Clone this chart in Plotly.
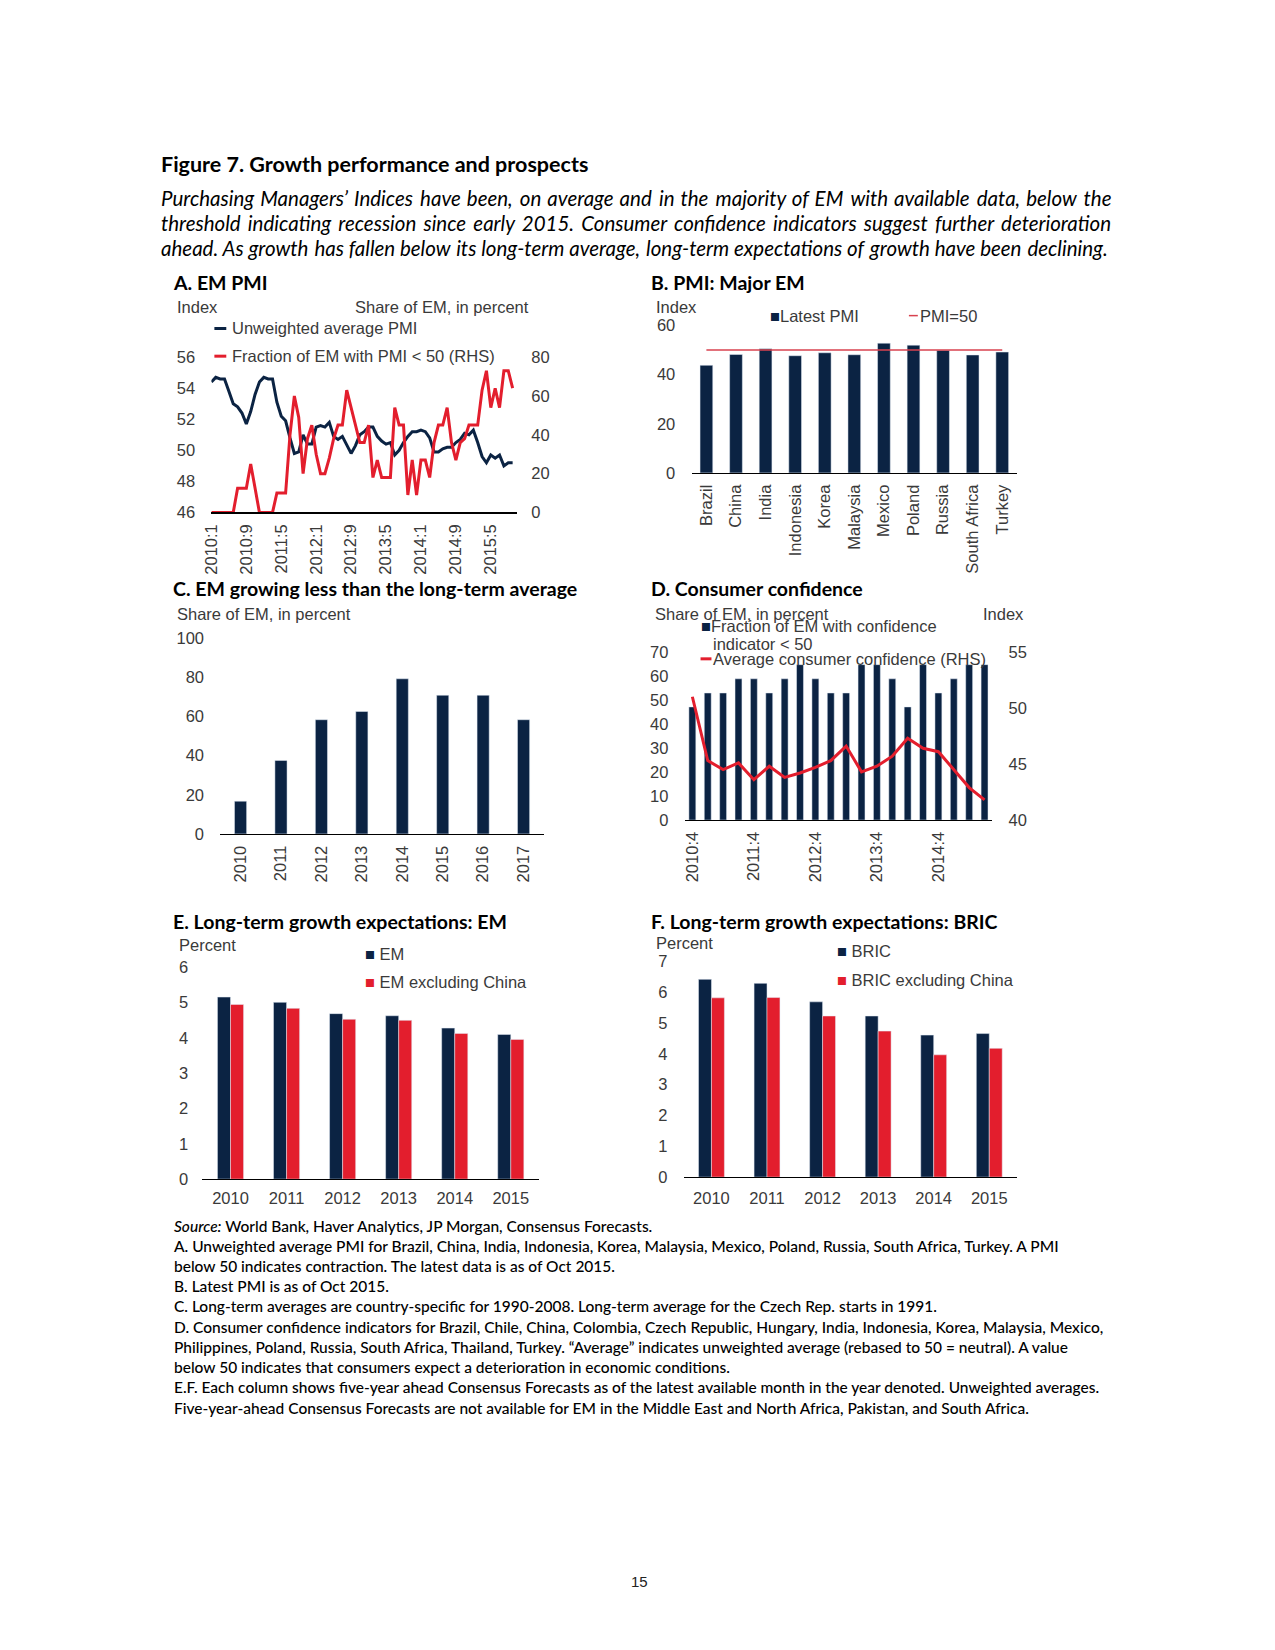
import plotly.graph_objects as go

W, H = 1275, 1650
def fx(x): return x / W
def fy(y): return 1 - y / H

NAVY = "#0b2343"
RED = "#e31e2d"
TXT = "#3a3a3a"
AXF = "Liberation Sans"
HF = "Lato"
FS = 16.5

# ---------------- Data ----------------
# A. EM PMI (monthly, 2010:1 - 2015:10)
A_MONTHS = [f"{2010 + i // 12}:{i % 12 + 1}" for i in range(70)]
A_TICKS = ["2010:1", "2010:9", "2011:5", "2012:1", "2012:9", "2013:5", "2014:1", "2014:9", "2015:5"]
A_PMI = [54.4, 54.7, 54.6, 54.6, 53.8, 53.0, 52.8, 52.4, 51.7, 52.5,
         53.6, 54.4, 54.7, 54.6, 54.6, 53.1, 52.2, 51.9, 50.8, 49.8,
         49.9, 51.0, 50.4, 50.4, 51.5, 51.6, 51.5, 51.8, 50.9, 50.7,
         50.9, 50.3, 49.8, 50.3, 51.0, 51.2, 51.5, 51.5, 50.9, 50.6,
         50.4, 50.5, 49.7, 50.0, 50.5, 50.9, 51.2, 51.2, 51.3, 51.2,
         50.8, 49.9, 49.9, 50.1, 50.2, 50.2, 50.5, 50.7, 51.1, 51.0,
         51.3, 50.5, 49.6, 49.2, 49.7, 49.5, 49.7, 49.0, 49.2, 49.2]
A_FRAC = [0, 0, 0, 0, 0, 0, 12.5, 12.5, 12.5, 25,
          12.5, 0, 0, 0, 0, 10, 10, 10, 40, 60,
          49, 20, 38, 45, 30, 20, 20, 28, 38, 45,
          45, 63, 54, 45, 36, 36, 45, 18, 27, 18,
          18, 18, 54, 45, 45, 9, 27, 9, 27, 27,
          18, 36, 45, 45, 54, 36, 27, 36, 38, 45,
          45, 45, 63, 73, 54, 64, 54, 73, 73, 64]

# B. PMI: Major EM
B_COUNTRIES = ["Brazil", "China", "India", "Indonesia", "Korea", "Malaysia",
               "Mexico", "Poland", "Russia", "South Africa", "Turkey"]
B_PMI = [43.8, 48.2, 50.5, 47.7, 48.9, 48.1, 52.8, 52.0, 49.9, 48.0, 49.2]
B_THRESHOLD = 50

# C. EM growing less than long-term average
C_YEARS = ["2010", "2011", "2012", "2013", "2014", "2015", "2016", "2017"]
C_SHARE = [16.7, 37.5, 58.3, 62.5, 79.2, 70.8, 70.8, 58.3]

# D. Consumer confidence (quarterly 2010:4 - 2015:3)
D_QUARTERS = [f"{2010 + (i + 3) // 4}:{(i + 3) % 4 + 1}" for i in range(20)]
D_TICKS = ["2010:4", "2011:4", "2012:4", "2013:4", "2014:4"]
D_FRAC = [47.1, 52.9, 52.9, 58.8, 58.8, 52.9, 58.8, 64.7, 58.8, 52.9,
          52.9, 64.7, 64.7, 58.8, 47.1, 64.7, 52.9, 58.8, 64.7, 64.7]
D_CONF = [51.0, 45.3, 44.5, 45.1, 43.6, 44.8, 43.8, 44.2, 44.7, 45.3,
          46.6, 44.3, 44.8, 45.7, 47.3, 46.4, 46.1, 44.5, 42.9, 41.8]

# E. Long-term growth expectations: EM
E_YEARS = ["2010", "2011", "2012", "2013", "2014", "2015"]
E_EM = [5.16, 5.01, 4.69, 4.63, 4.28, 4.10]
E_EXCH = [4.95, 4.84, 4.53, 4.50, 4.13, 3.96]

# F. Long-term growth expectations: BRIC
F_YEARS = ["2010", "2011", "2012", "2013", "2014", "2015"]
F_BRIC = [6.42, 6.29, 5.69, 5.23, 4.61, 4.66]
F_EXCH = [5.82, 5.83, 5.23, 4.74, 3.97, 4.18]

# ---------------- Figure ----------------
fig = go.Figure()

# A
fig.add_trace(go.Scatter(x=A_MONTHS, y=A_PMI, mode="lines", line=dict(color=NAVY, width=3),
                         xaxis="x", yaxis="y"))
fig.add_trace(go.Scatter(x=A_MONTHS, y=A_FRAC, mode="lines", line=dict(color=RED, width=3),
                         xaxis="x", yaxis="y2"))
# B
fig.add_trace(go.Bar(x=B_COUNTRIES, y=B_PMI, marker_color=NAVY, width=0.43,
                     xaxis="x2", yaxis="y3"))
fig.add_trace(go.Scatter(x=B_COUNTRIES, y=[B_THRESHOLD] * len(B_COUNTRIES), mode="lines",
                         line=dict(color="#d8424f", width=1.5), xaxis="x2", yaxis="y3"))
# C
fig.add_trace(go.Bar(x=C_YEARS, y=C_SHARE, marker_color=NAVY, width=0.3,
                     xaxis="x3", yaxis="y4"))
# D
fig.add_trace(go.Bar(x=D_QUARTERS, y=D_FRAC, marker_color=NAVY, width=0.45,
                     xaxis="x4", yaxis="y5"))
fig.add_trace(go.Scatter(x=D_QUARTERS, y=D_CONF, mode="lines", line=dict(color=RED, width=3),
                         xaxis="x4", yaxis="y6"))
# E
fig.add_trace(go.Bar(x=E_YEARS, y=E_EM, marker_color=NAVY, width=0.233, offset=-0.233,
                     xaxis="x5", yaxis="y7"))
fig.add_trace(go.Bar(x=E_YEARS, y=E_EXCH, marker_color=RED, width=0.233, offset=0,
                     xaxis="x5", yaxis="y7"))
# F
fig.add_trace(go.Bar(x=F_YEARS, y=F_BRIC, marker_color=NAVY, width=0.233, offset=-0.233,
                     xaxis="x6", yaxis="y8"))
fig.add_trace(go.Bar(x=F_YEARS, y=F_EXCH, marker_color=RED, width=0.233, offset=0,
                     xaxis="x6", yaxis="y8"))

tickfont = dict(family=AXF, size=FS, color=TXT)

def xax(x0, x1, anchor, rng, **kw):
    d = dict(domain=[fx(x0), fx(x1)], anchor=anchor, type="category", range=rng,
             showline=True, linecolor="#000000", linewidth=1.2, showgrid=False,
             zeroline=False, ticks="outside", tickcolor="rgba(0,0,0,0)", ticklen=4,
             tickfont=tickfont, fixedrange=True)
    d.update(kw)
    return d

def yax(y0, y1, anchor, rng, dtick, side="left", overlaying=None, ticklen=12):
    d = dict(domain=[fy(y1), fy(y0)], anchor=anchor, range=rng, dtick=dtick, side=side,
             showline=False, showgrid=False, zeroline=False, ticks="outside",
             tickcolor="rgba(0,0,0,0)", ticklen=ticklen, tickfont=tickfont, fixedrange=True)
    if overlaying:
        d["overlaying"] = overlaying
    return d

fig.update_layout(
    width=W, height=H, margin=dict(l=0, r=0, t=0, b=0),
    paper_bgcolor="white", plot_bgcolor="rgba(0,0,0,0)",
    showlegend=False, barmode="overlay",
    xaxis=xax(203, 511, "y", [0, 70], tickvals=A_TICKS, ticktext=A_TICKS, tickangle=-90),
    yaxis=yax(352, 509, "x", [46, 56], 2),
    yaxis2=yax(352, 509, "x", [0, 80], 20, side="right", overlaying="y", ticklen=10),
    xaxis2=xax(687, 1015, "y3", [-0.5, 10.5], tickangle=-90),
    yaxis3=yax(320, 469, "x2", [0, 60], 20),
    xaxis3=xax(212, 538, "y4", [-0.5, 7.5], tickangle=-90),
    yaxis4=yax(636, 834, "x3", [0, 100], 20),
    xaxis4=xax(680, 990, "y5", [-0.5, 19.5], tickvals=D_TICKS, ticktext=D_TICKS, tickangle=-90),
    yaxis5=yax(650, 820, "x4", [0, 70], 10),
    yaxis6=yax(650, 820, "x4", [40, 55], 5, side="right", overlaying="y5", ticklen=12),
    xaxis5=xax(194, 533, "y7", [-0.5, 5.5], ticklen=4, tickangle=0),
    yaxis7=yax(969, 1183, "x5", [0, 6], 1, ticklen=10),
    xaxis6=xax(679, 1015, "y8", [-0.5, 5.5], ticklen=6, tickangle=0),
    yaxis8=yax(963, 1181, "x6", [0, 7], 1),
)

ann = []
def t(x, y, s, size=FS, family=AXF, color=TXT, xanchor="left", bold=False, italic=False, weight=None):
    if bold:
        s = f"<b>{s}</b>"
    if italic:
        s = f"<i>{s}</i>"
    font = dict(family=family, size=size, color=color)
    if weight:
        font["weight"] = weight
    ann.append(dict(x=fx(x), y=fy(y), xref="paper", yref="paper", text=s, showarrow=False,
                    xanchor=xanchor, yanchor="middle", align="left", font=font))

def justify(line, n_extra):
    # spread n_extra hair spaces evenly over the word gaps
    words = line.split(" ")
    gaps = len(words) - 1
    out = words[0]
    for i in range(gaps):
        k = (n_extra * (i + 1)) // gaps - (n_extra * i) // gaps
        out += " " + "\u200a" * k + words[i + 1]
    return out

# Header
t(150, 157, "Figure 7. Growth performance and prospects", size=21.5, family=HF, color="#000", bold=True)
para = [
    ("Purchasing Managers’ Indices have been, on average and in the majority of EM with available data, below the", 24),
    ("threshold indicating recession since early 2015. Consumer confidence indicators suggest further deterioration", 22),
    ("ahead. As growth has fallen below its long-term average, long-term expectations of growth have been declining.", 5),
]
for i, (line, n) in enumerate(para):
    t(150, 191 + 25.5 * i, justify(line, n), size=20.5, family=HF, color="#000", italic=True)

# Panel titles
for (x, y, s) in [(162, 277, "A. EM PMI"), (644, 277, "B. PMI: Major EM"),
                  (162, 586, "C. EM growing less than the long-term average"),
                  (644, 586, "D. Consumer confidence"),
                  (162, 923, "E. Long-term growth expectations: EM"),
                  (644, 923, "F. Long-term growth expectations: BRIC")]:
    t(x, y, s, size=19.5, family=HF, color="#000", bold=True)

# Panel A labels/legend
t(166, 301, "Index")
t(525, 301, "Share of EM, in percent", xanchor="right")
t(222, 323, "Unweighted average PMI")
t(222, 351, "Fraction of EM with PMI < 50 (RHS)")
shapes = [
    dict(type="line", xref="paper", yref="paper", x0=fx(206), x1=fx(218), y0=fy(323), y1=fy(323),
         line=dict(color=NAVY, width=3)),
    dict(type="line", xref="paper", yref="paper", x0=fx(206), x1=fx(218), y0=fy(351), y1=fy(351),
         line=dict(color=RED, width=3)),
    dict(type="line", xref="paper", yref="paper", x0=fx(696), x1=fx(707), y0=fy(657), y1=fy(657),
         line=dict(color=RED, width=3)),
    dict(type="line", xref="paper", yref="paper", x0=fx(906), x1=fx(915), y0=fy(310), y1=fy(310),
         line=dict(color="#d8424f", width=1.5)),
]

# Panel B
t(649, 301, "Index")
t(764, 310, f"<span style='color:{NAVY}'>■</span>Latest PMI")
t(915, 310, "PMI=50")

# Panel C
t(166, 612, "Share of EM, in percent")

# Panel D
t(648, 612, "Share of EM, in percent")
t(1024, 612, "Index", xanchor="right")
t(694, 624, f"<span style='color:{NAVY}'>■</span>Fraction of EM with confidence")
t(707, 642, "indicator < 50")
t(707, 657, "Average consumer confidence (RHS)")

# Panel E
t(168, 946, "Percent")
t(356, 955, f"<span style='color:{NAVY}'>■</span> EM")
t(356, 984, f"<span style='color:{RED}'>■</span> EM excluding China")

# Panel F
t(649, 944, "Percent")
t(832, 952, f"<span style='color:{NAVY}'>■</span> BRIC")
t(832, 982, f"<span style='color:{RED}'>■</span> BRIC excluding China")

# Notes
notes = [
    "<i>Source:</i> World Bank, Haver Analytics, JP Morgan, Consensus Forecasts.",
    "A. Unweighted average PMI for Brazil, China, India, Indonesia, Korea, Malaysia, Mexico, Poland, Russia, South Africa, Turkey. A PMI",
    "below 50 indicates contraction. The latest data is as of Oct 2015.",
    "B. Latest PMI is as of Oct 2015.",
    "C. Long-term averages are country-specific for 1990-2008. Long-term average for the Czech Rep. starts in 1991.",
    "D. Consumer confidence indicators for Brazil, Chile, China, Colombia, Czech Republic, Hungary, India, Indonesia, Korea, Malaysia, Mexico,",
    "Philippines, Poland, Russia, South Africa, Thailand, Turkey. “Average” indicates unweighted average (rebased to 50 = neutral). A value",
    "below 50 indicates that consumers expect a deterioration in economic conditions.",
    "E.F. Each column shows five-year ahead Consensus Forecasts as of the latest available month in the year denoted. Unweighted averages.",
    "Five-year-ahead Consensus Forecasts are not available for EM in the Middle East and North Africa, Pakistan, and South Africa.",
]
for i, line in enumerate(notes):
    t(163, 1230 + 20.45 * i, line, size=15.5, family=HF, color="#000", weight=500)

t(634, 1590, "15", size=15, family=AXF, color="#222", xanchor="center")

fig.update_layout(annotations=ann, shapes=shapes)
fig.write_html("out.html", config={"displayModeBar": False, "staticPlot": True},
               post_script="document.body.style.margin='0';document.body.style.padding='0';document.documentElement.style.overflow='hidden';")
